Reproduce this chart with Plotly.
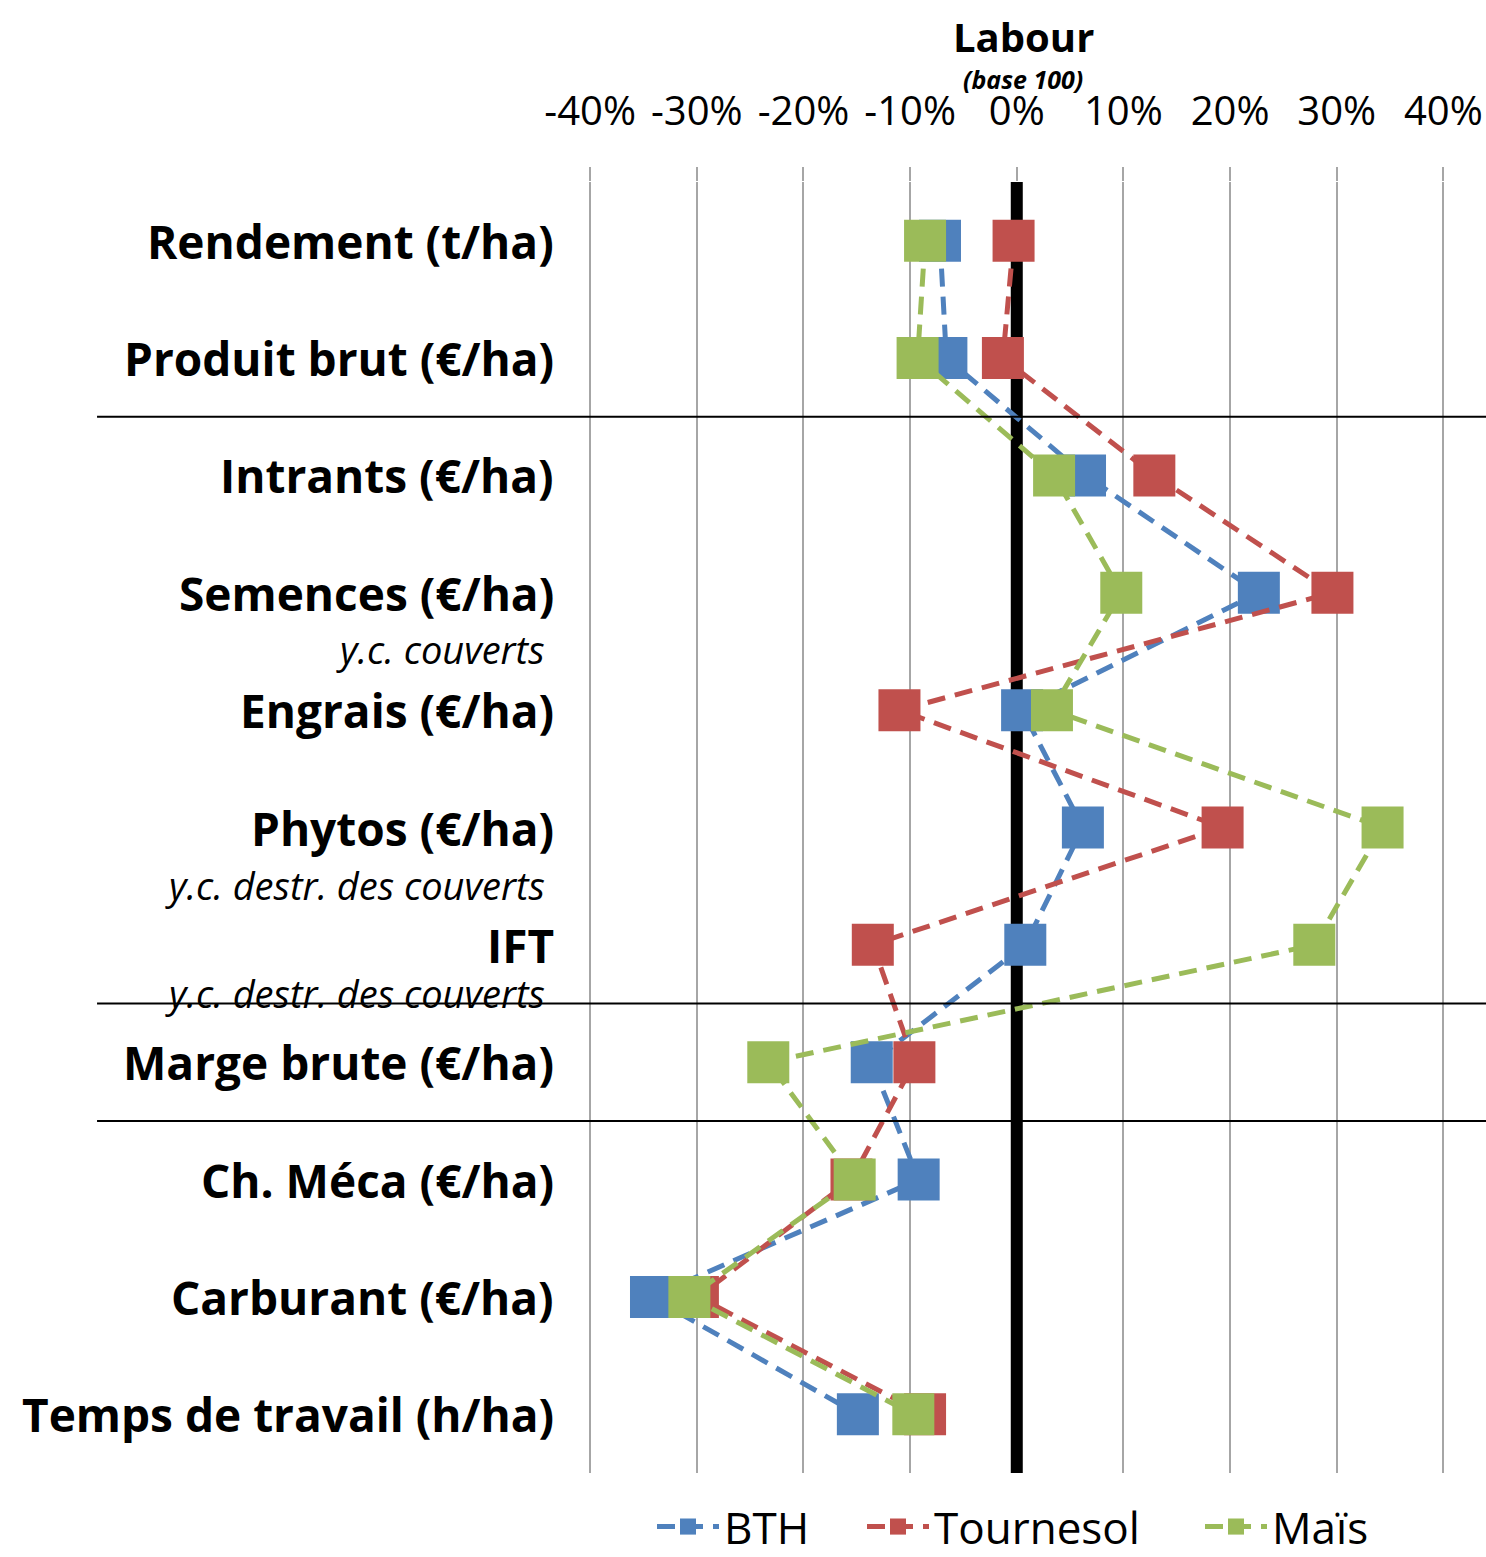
import plotly.graph_objects as go

categories = ["Rendement (t/ha)", "Produit brut (€/ha)", "Intrants (€/ha)", "Semences (€/ha)",
              "Engrais (€/ha)", "Phytos (€/ha)", "IFT", "Marge brute (€/ha)",
              "Ch. Méca (€/ha)", "Carburant (€/ha)", "Temps de travail (h/ha)"]
subtitles = {3: "y.c. couverts", 5: "y.c. destr. des couverts", 6: "y.c. destr. des couverts"}
sub_offsets = {3: 0.48, 5: 0.49, 6: 0.41}

bth = [-7.2, -6.6, 6.4, 22.7, 0.5, 6.2, 0.8, -13.6, -9.2, -34.3, -14.9]
tournesol = [-0.3, -1.3, 12.9, 29.6, -11.0, 19.3, -13.5, -9.6, -15.5, -29.9, -8.6]
mais = [-8.6, -9.3, 3.5, 9.8, 3.3, 34.3, 27.9, -23.3, -15.2, -30.7, -9.7]

tick_vals = [-40, -30, -20, -10, 0, 10, 20, 30, 40]
tick_text = ["-40%", "-30%", "-20%", "-10%", "0%", "10%", "20%", "30%", "40%"]
separators = [1.5, 6.5, 7.5]

series = [("BTH", bth, "#4F81BD"), ("Tournesol", tournesol, "#C0504D"), ("Maïs", mais, "#9BBB59")]
legend_ids = ["legend", "legend2", "legend3"]
legend_x = [652, 862, 1200]

FONT = "'Open Sans', Lato, sans-serif"
W, H = 1486, 1557

fig = go.Figure()
idx = list(range(len(categories)))

# thick zero reference line (drawn first, beneath the markers)
fig.add_trace(go.Scatter(x=[0, 0], y=[-0.5, len(categories) - 0.5], mode="lines",
                         line=dict(color="black", width=12), showlegend=False, hoverinfo="skip"))

for (name, vals, col), lid in zip(series, legend_ids):
    fig.add_trace(go.Scatter(
        x=vals, y=idx, name=name, mode="lines+markers", legend=lid,
        line=dict(color=col, width=5, dash="18px,10px"),
        marker=dict(symbol="square", size=42, color=col),
    ))

shapes = []
for s in separators:
    shapes.append(dict(type="line", xref="paper", yref="y", x0=-0.545, x1=1.01, y0=s, y1=s,
                       line=dict(color="black", width=2), layer="above"))

annotations = []
for i, c in enumerate(categories):
    annotations.append(dict(text=f"<b>{c}</b>", xref="paper", yref="y", x=-0.035, y=i,
                            xanchor="right", yanchor="middle", showarrow=False,
                            font=dict(family=FONT, size=46, color="black")))
for i, t in subtitles.items():
    annotations.append(dict(text=f"<i>{t}</i>", xref="paper", yref="y", x=-0.045, y=i + sub_offsets[i],
                            xanchor="right", yanchor="middle", showarrow=False,
                            font=dict(family=FONT, size=38, color="black")))
annotations.append(dict(text="<b>Labour</b>", xref="paper", yref="paper", x=0.485, y=1.1125,
                        xanchor="center", yanchor="middle", showarrow=False,
                        font=dict(family=FONT, size=40, color="black")))
annotations.append(dict(text="<b><i>(base 100)</i></b>", xref="paper", yref="paper", x=0.485, y=1.080,
                        xanchor="center", yanchor="middle", showarrow=False,
                        font=dict(family=FONT, size=25, color="black")))

legend_common = dict(orientation="h", xref="container", yref="container",
                     xanchor="left", yanchor="middle", y=1 - 1527 / H,
                     font=dict(family=FONT, size=44, color="black"), itemwidth=62,
                     bgcolor="rgba(0,0,0,0)")
legends = {}
for lid, lx in zip(legend_ids, legend_x):
    legends[lid] = dict(legend_common, x=lx / W)

fig.update_layout(
    width=W, height=H,
    margin=dict(l=587, r=0, t=182, b=84),
    paper_bgcolor="white", plot_bgcolor="white",
    shapes=shapes, annotations=annotations,
    showlegend=True,
    xaxis=dict(side="top", range=[-40.3, 44], tickvals=tick_vals, ticktext=tick_text,
               showgrid=True, gridcolor="#A6A6A6", gridwidth=2, zeroline=False,
               ticks="outside", ticklen=14, tickcolor="#A6A6A6", tickwidth=2,
               ticklabelstandoff=26,
               tickfont=dict(family=FONT, size=40, color="black"), showline=False),
    yaxis=dict(range=[10.5, -0.5], showticklabels=False, showgrid=False, zeroline=False,
               showline=False),
    **legends,
)

fig.write_html("out.html", config={"displayModeBar": False},
               post_script="document.body.style.margin='0';document.body.style.overflow='hidden';")
